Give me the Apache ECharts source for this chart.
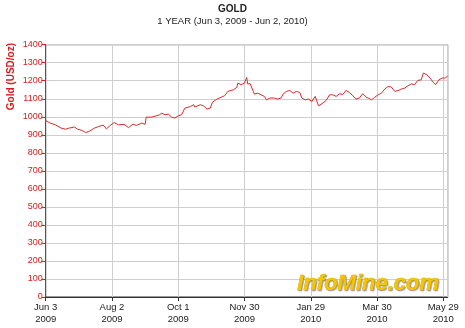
<!DOCTYPE html>
<html>
<head>
<meta charset="utf-8">
<script src="https://cdn.jsdelivr.net/npm/echarts@6/dist/echarts.min.js"></script>
<style>
html,body{margin:0;padding:0;background:#fff;}
#chart{width:465px;height:328px;}
</style>
</head>
<body>
<div id="chart"></div>
<script>
// ---- data ----
const startDate = '2009-06-03';
const dates = [
 '2009-06-03','2009-06-07','2009-06-12','2009-06-17','2009-06-21','2009-06-24','2009-06-29',
 '2009-07-02','2009-07-06','2009-07-09','2009-07-12','2009-07-17','2009-07-21','2009-07-25','2009-07-28',
 '2009-08-01','2009-08-04','2009-08-08','2009-08-13','2009-08-17','2009-08-21','2009-08-24','2009-08-29',
 '2009-09-01','2009-09-02','2009-09-07','2009-09-11','2009-09-14','2009-09-16','2009-09-19','2009-09-22','2009-09-25','2009-09-28',
 '2009-10-01','2009-10-04','2009-10-07','2009-10-12','2009-10-15','2009-10-16','2009-10-21','2009-10-24','2009-10-27','2009-10-30',
 '2009-11-01','2009-11-05','2009-11-09','2009-11-12','2009-11-15','2009-11-20','2009-11-23','2009-11-24','2009-11-27','2009-11-30',
 '2009-12-02','2009-12-03','2009-12-05','2009-12-08','2009-12-09','2009-12-12','2009-12-15','2009-12-18','2009-12-20','2009-12-23','2009-12-27','2009-12-30',
 '2010-01-02','2010-01-04','2010-01-07','2010-01-10','2010-01-13','2010-01-16','2010-01-19','2010-01-21','2010-01-24','2010-01-27','2010-01-30',
 '2010-02-02','2010-02-05','2010-02-06','2010-02-09','2010-02-12','2010-02-15','2010-02-18','2010-02-21','2010-02-24','2010-02-27',
 '2010-03-02','2010-03-05','2010-03-08','2010-03-11','2010-03-14','2010-03-17','2010-03-20','2010-03-22','2010-03-25','2010-03-28','2010-03-31',
 '2010-04-03','2010-04-06','2010-04-09','2010-04-12','2010-04-15','2010-04-18','2010-04-21','2010-04-24','2010-04-27','2010-04-30',
 '2010-05-03','2010-05-06','2010-05-09','2010-05-11','2010-05-14','2010-05-17','2010-05-20','2010-05-22','2010-05-25','2010-05-28','2010-05-31','2010-06-02'
];
const prices = [
 979,965,955,937,931,937,943,
 931,924,913,918,937,946,954,933,
 955,968,955,958,940,959,952,
 965,958,998,998,1005,1011,1020,1011,1015,998,993,
 1005,1011,1048,1057,1067,1054,1067,1060,1043,1048,
 1081,1098,1109,1117,1141,1150,1163,1187,1178,1187,
 1218,1181,1185,1141,1126,1131,1122,1113,1094,1104,1104,1098,
 1104,1126,1141,1146,1131,1141,1135,1104,1094,1098,1085,
 1113,1061,1054,1076,1091,1122,1122,1113,1128,1124,
 1146,1135,1117,1098,1104,1128,1109,1104,1094,1109,1122,
 1131,1154,1168,1165,1141,1145,1154,1159,1172,1183,
 1178,1202,1205,1243,1233,1215,1191,1178,1205,1215,1215,1228
];
const xTickLabels = ['Jun 3\n2009','Aug 2\n2009','Oct 1\n2009','Nov 30\n2009','Jan 29\n2010','Mar 30\n2010','May 29\n2010'];
const totalDays = 364; // Jun 3, 2009 - Jun 2, 2010

// convert dates to day offsets from start
const DAY = 86400000;
const t0 = Date.parse(startDate + 'T00:00:00Z');
const seriesData = dates.map((d, i) => [Math.round((Date.parse(d + 'T00:00:00Z') - t0) / DAY), prices[i]]);

const chart = echarts.init(document.getElementById('chart'), null, {renderer: 'canvas'});
const FONT = '"Liberation Sans", Arial, sans-serif';
const RED = '#dd1a1a';

chart.setOption({
  animation: false,
  backgroundColor: '#ffffff',
  title: {
    text: 'GOLD',
    subtext: '1 YEAR (Jun 3, 2009 - Jun 2, 2010)',
    left: 'center',
    top: -1,
    itemGap: 2,
    textStyle: {fontFamily: FONT, fontSize: 10, fontWeight: 'bold', color: '#222'},
    subtextStyle: {fontFamily: FONT, fontSize: 9.5, color: '#222'}
  },
  grid: {
    left: 45.7, right: 17.3, top: 44.7, bottom: 31,
    show: true, borderColor: '#333', borderWidth: 1, backgroundColor: 'transparent'
  },
  xAxis: {
    type: 'value',
    min: 0, max: totalDays, interval: 60,
    axisLine: {show: true, lineStyle: {color: '#333', width: 1}},
    axisTick: {show: true, length: 4, lineStyle: {color: '#333'}},
    splitLine: {show: true, lineStyle: {color: '#cfcfcf', width: 1}},
    axisLabel: {
      fontFamily: FONT, fontSize: 9.5, color: '#222', margin: 5, lineHeight: 11.5,
      showMaxLabel: false,
      formatter: function (v) {
        if (v % 60 !== 0) return '';
        return xTickLabels[v / 60] || '';
      }
    }
  },
  yAxis: {
    type: 'value',
    min: 0, max: 1400, interval: 100,
    axisLine: {show: true, lineStyle: {color: RED, width: 1}},
    axisTick: {show: true, length: 4, lineStyle: {color: RED}},
    splitLine: {show: true, lineStyle: {color: '#cfcfcf', width: 1}},
    axisLabel: {fontFamily: FONT, fontSize: 9, color: RED, margin: 3,
      formatter: function (v) { return String(v); }}
  },
  graphic: [
    {
      type: 'text', left: 6, top: 43, rotation: Math.PI / 2, z: 10,
      style: {text: 'Gold (USD/oz)', fontFamily: FONT, fontSize: 10, fontWeight: 'bold', fill: RED}
    },
    {
      type: 'text', left: 297, top: 273, z: 1,
      style: {
        text: 'InfoMine.com', fontFamily: FONT, fontSize: 22, fontWeight: 'bold', fontStyle: 'italic',
        fill: '#f6c500', stroke: '#d9a200', lineWidth: 0.6,
        textShadowColor: 'rgba(110,110,110,0.6)', textShadowOffsetX: 1, textShadowOffsetY: 1, textShadowBlur: 1
      }
    }
  ],
  series: [{
    type: 'line',
    data: seriesData,
    showSymbol: false,
    symbol: 'none',
    lineStyle: {color: '#dd2a2a', width: 1},
    z: 5
  }]
});
</script>
</body>
</html>
